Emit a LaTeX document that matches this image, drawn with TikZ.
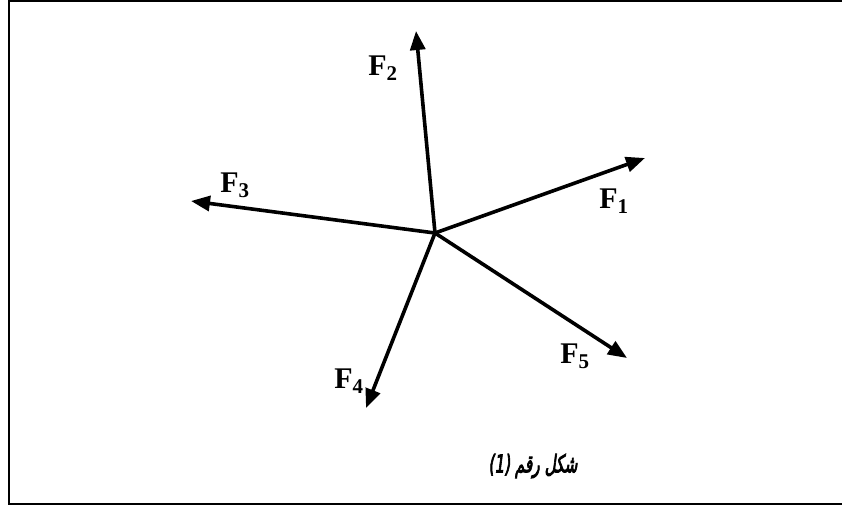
\documentclass[tikz,border=0pt]{standalone}
\usepackage{fontspec}
\usepackage{graphicx}
\setmainfont{Liberation Serif}
\TeXXeTstate=1
\newfontfamily\arabicfont[Script=Arabic,FakeBold=4,FakeSlant=0.2]{DejaVu Sans}
\usetikzlibrary{arrows.meta}
\tikzset{
  vec/.style={line width=3.6pt,-{Triangle[length=19pt,width=15pt]}},
  flabel/.style={font=\fontsize{30}{30}\selectfont\bfseries,inner sep=0pt},
  frame/.style={line width=2pt}
}
\begin{document}
\begin{tikzpicture}[x=1pt,y=-1pt]
\useasboundingbox (0,0) rectangle (842,507);
\coordinate (fa) at (9,504);
\coordinate (fb) at (9,1);
\coordinate (fc) at (845,1);
\coordinate (fd) at (845,504);
\draw[frame] (fd) -- (fa) -- (fb) -- (fc);
\coordinate (O) at (435,233);
\coordinate (t1) at (645,158);
\coordinate (t2) at (416,31);
\coordinate (t3) at (191,201);
\coordinate (t4) at (366,408);
\coordinate (t5) at (627,358);
\draw[vec] (O) -- (t1);
\draw[vec] (O) -- (t2);
\draw[vec] (O) -- (t3);
\draw[vec] (O) -- (t4);
\draw[vec] (O) -- (t5);
\node[flabel] (l1) at (614,201) {F$_{\mathbf{1}}$};
\node[flabel] (l2) at (383,68) {F$_{\mathbf{2}}$};
\node[flabel] (l3) at (235,185) {F$_{\mathbf{3}}$};
\node[flabel] (l4) at (349,381) {F$_{\mathbf{4}}$};
\node[flabel] (l5) at (575,356) {F$_{\mathbf{5}}$};
\node[inner sep=0pt,font=\fontsize{18}{18}\selectfont] (cap) at (533,466) {\scalebox{0.85}[1.35]{\arabicfont\beginR شكل رقم \beginL(1)\endL\endR}};
\end{tikzpicture}
\end{document}
